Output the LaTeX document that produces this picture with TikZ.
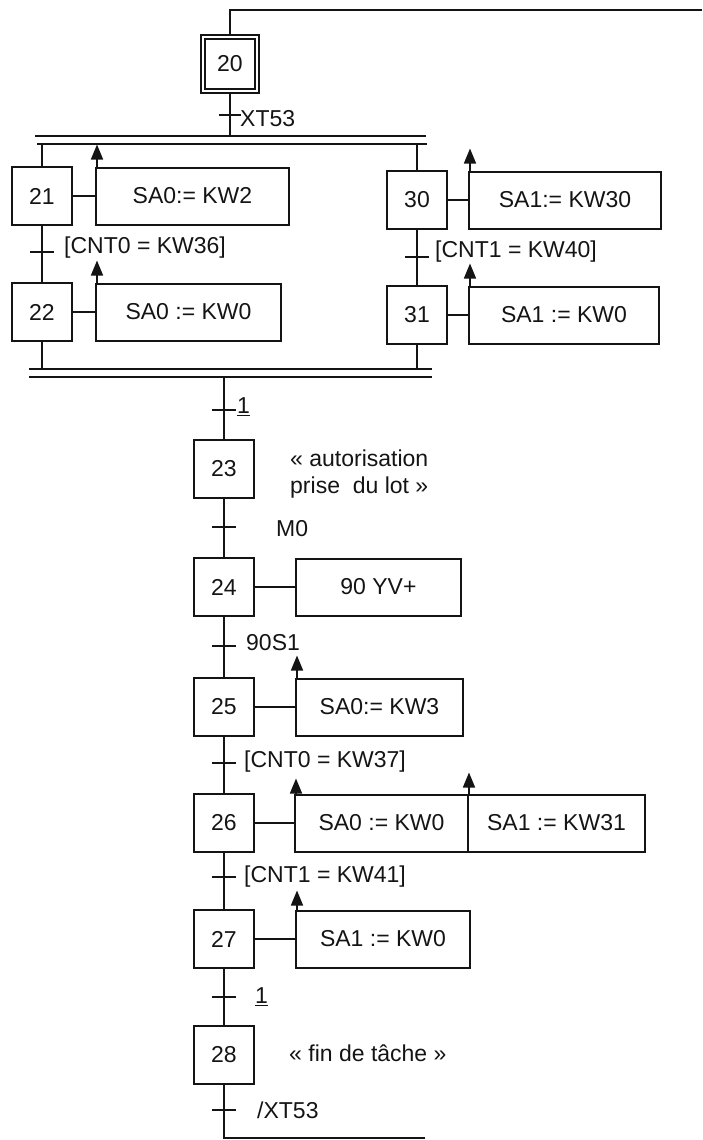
\documentclass[tikz,border=0pt]{standalone}
\usepackage{fontspec}
\setmainfont{Liberation Sans}
\usepackage{tikz}
\usetikzlibrary{arrows.meta,positioning}
\definecolor{gfInk}{HTML}{141414}
\newcommand{\gfont}{\fontsize{23}{27}\selectfont}
\tikzset{
  stepbox/.style={rectangle,draw=gfInk,line width=2pt,
    minimum width=60pt,minimum height=58pt,inner sep=0pt,
    font=\gfont,text=gfInk},
  initbox/.style={stepbox,line width=1.8pt,double,double distance=2.6pt,
    minimum width=54pt,minimum height=54pt},
  actbox/.style={rectangle,draw=gfInk,line width=2pt,
    minimum height=57pt,inner sep=0pt,
    font=\gfont,text=gfInk},
  link/.style={draw=gfInk,line width=2pt},
  tick/.style={draw=gfInk,line width=2pt},
  sync/.style={draw=gfInk,line width=2pt},
  act/.style={draw=gfInk,line width=1.6pt,arrows={-Triangle[length=15pt,width=12pt]}},
  lbl/.style={anchor=west,inner sep=0pt,font=\gfont,text=gfInk},
  note/.style={anchor=west,inner sep=0pt,align=left,font=\gfont,text=gfInk},
}

\begin{document}
\begin{tikzpicture}[x=1pt,y=-1pt]
  \useasboundingbox (0,0) rectangle (702,1140);

  % initial step, AND divergence
  \node[initbox] (s20) at (230,64) {20};
  \coordinate (looptop) at (702,10);
  \coordinate (t20) at (230,115);
  \coordinate (dvA) at (35,136);
  \coordinate (dvB) at (426,136);
  \coordinate (dvC) at (37,144);
  \coordinate (dvD) at (427,144);
  \draw[link] (looptop) -| (s20.north);
  \draw[link] (s20.south) -- (s20.south |- dvA);
  \draw[tick] (t20) +(-11,0) -- +(11,0);
  \node[lbl] (l20) at (240,119) {XT53};
  \draw[sync] (dvA) -- (dvB);
  \draw[sync] (dvC) -- (dvD);

  % left branch
  \node[stepbox] (s21) at (42,196) {21};
  \node[actbox,minimum width=193pt,right=22pt of s21] (a21) {SA0:= KW2};
  \node[stepbox] (s22) at (42,312) {22};
  \node[actbox,minimum width=185pt,right=22pt of s22] (a22) {SA0 := KW0};
  \coordinate (t21) at (42,252);
  \node[lbl] (l21) at (64,248) {[CNT0 = KW36]};

  \draw[link] (s21.north |- dvC) -- (s21);
  \draw[link] (s21) -- (a21);
  \draw[link] (s21) -- (s22);
  \draw[link] (s22) -- (a22);
  \draw[tick] (t21) +(-12,0) -- +(12,0);
  \draw[act] ([xshift=2pt]a21.north west) -- ++(0,-22);
  \draw[act] ([xshift=2pt]a22.north west) -- ++(0,-22);

  % right branch
  \node[stepbox] (s30) at (417,200) {30};
  \node[actbox,minimum width=192pt,right=20pt of s30] (a30) {SA1:= KW30};
  \node[stepbox] (s31) at (417,315) {31};
  \node[actbox,minimum width=190pt,right=20pt of s31] (a31) {SA1 := KW0};
  \coordinate (t30) at (417,257);
  \node[lbl] (l30) at (435,252) {[CNT1 = KW40]};

  \draw[link] (s30.north |- dvD) -- (s30);
  \draw[link] (s30) -- (a30);
  \draw[link] (s30) -- (s31);
  \draw[link] (s31) -- (a31);
  \draw[tick] (t30) +(-12,0) -- +(12,0);
  \draw[act] ([xshift=2pt]a30.north west) -- ++(0,-22);
  \draw[act] ([xshift=2pt]a31.north west) -- ++(0,-22);

  % AND convergence
  \coordinate (cvA) at (29,369);
  \coordinate (cvB) at (432,369);
  \coordinate (cvC) at (29,377);
  \coordinate (cvD) at (432,377);
  \draw[sync] (cvA) -- (cvB);
  \draw[sync] (cvC) -- (cvD);
  \draw[link] (s22) -- (s22.south |- cvA);
  \draw[link] (s31) -- (s31.south |- cvB);

  % main sequence
  \node[stepbox] (s23) at (224,469) {23};
  \node[stepbox] (s24) at (224,587) {24};
  \node[stepbox] (s25) at (224,707) {25};
  \node[stepbox] (s26) at (224,823) {26};
  \node[stepbox] (s27) at (224,939) {27};
  \node[stepbox] (s28) at (224,1055) {28};

  \node[note] (n23) at (290,474) {« autorisation\\prise\ \ du lot »};
  \node[actbox,minimum width=165pt,right=40pt of s24] (a24) {90 YV+};
  \node[actbox,minimum width=167pt,right=40pt of s25] (a25) {SA0:= KW3};
  \node[actbox,minimum width=173pt,right=39pt of s26] (a26) {SA0 := KW0};
  \node[actbox,minimum width=177pt,right=-2pt of a26] (b26) {SA1 := KW31};
  \node[actbox,minimum width=174pt,right=40pt of s27] (a27) {SA1 := KW0};
  \node[note] (n28) at (289,1053) {« fin de tâche »};

  \coordinate (tc) at (224,410);
  \coordinate (t23) at (224,527);
  \coordinate (t24) at (224,646);
  \coordinate (t25) at (224,763);
  \coordinate (t26) at (224,877);
  \coordinate (t27) at (224,997);
  \coordinate (t28) at (224,1110);
  \coordinate (loopbot) at (425,1138);

  \node[lbl] (lc) at (237,407) {\underline{1}};
  \node[lbl] (l23) at (276,529) {M0};
  \node[lbl] (l24) at (246,643) {90S1};
  \node[lbl] (l25) at (244,762) {[CNT0 = KW37]};
  \node[lbl] (l26) at (244,877) {[CNT1 = KW41]};
  \node[lbl] (l27) at (255,997) {\underline{1}};
  \node[lbl] (l28) at (257,1110) {/XT53};

  \draw[link] (s23.north |- cvC) -- (s23);
  \draw[link] (s23) -- (s24);
  \draw[link] (s24) -- (s25);
  \draw[link] (s25) -- (s26);
  \draw[link] (s26) -- (s27);
  \draw[link] (s27) -- (s28);
  \draw[link] (s28) |- (loopbot);

  \draw[link] (s24) -- (a24);
  \draw[link] (s25) -- (a25);
  \draw[link] (s26) -- (a26);
  \draw[link] (s27) -- (a27);

  \foreach \t in {tc,t23,t24,t25,t26,t27,t28}
    \draw[tick] (\t) +(-12,0) -- +(12,0);

  \draw[act] ([xshift=2pt]a25.north west) -- ++(0,-22);
  \draw[act] ([xshift=2pt]a26.north west) -- ++(0,-15);
  \draw[act] ([xshift=2pt]b26.north west) -- ++(0,-21);
  \draw[act] ([xshift=2pt]a27.north west) -- ++(0,-19);
\end{tikzpicture}
\end{document}
